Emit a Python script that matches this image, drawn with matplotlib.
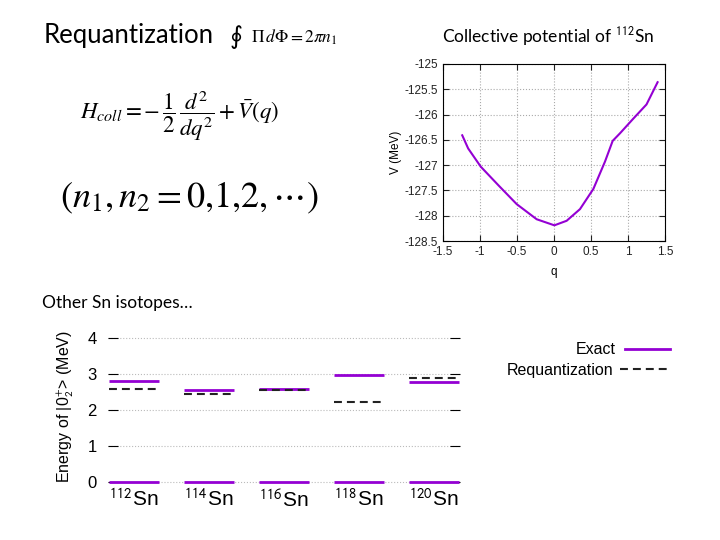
import numpy as np
import matplotlib
matplotlib.use('Agg')
import matplotlib.pyplot as plt
from matplotlib.lines import Line2D

plt.rcParams['mathtext.fontset'] = 'stix'

# collective potential of 112Sn
q = [-1.24, -1.16, -0.99, -0.75, -0.505, -0.234, 0.005, 0.171, 0.351, 0.532, 0.689,
     0.793, 0.892, 1.072, 1.25, 1.40]
V = [-126.41, -126.67, -127.03, -127.4, -127.77, -128.07, -128.19, -128.1, -127.87, -127.47,
     -126.93, -126.52, -126.37, -126.08, -125.8, -125.36]

# 0+_2 energies
isotopes = [r'$^{\mathsf{112}}$Sn', r'$^{\mathsf{114}}$Sn', r'$^{\mathsf{116}}$Sn',
            r'$^{\mathsf{118}}$Sn', r'$^{\mathsf{120}}$Sn']
e_exact = [2.82, 2.56, 2.59, 2.98, 2.78]
e_requant = [2.59, 2.44, 2.56, 2.22, 2.90]
e_ground = [0, 0, 0, 0, 0]

purple = '#9400d3'
slide_font = 'Lato'
plot_font = 'Liberation Sans'

fig = plt.figure(figsize=(7.2, 5.4), dpi=100)

# ---- slide text ----
fig.text(44/720, 1 - 36/540, 'Requantization', fontsize=18.5, family=slide_font, va='center')
fig.text(230/720, 1 - 37/540, '\u222e', fontsize=18,
         family=['DejaVu Sans', 'Noto Sans CJK JP', 'Noto Sans'], va='center')
fig.text(251/720, 1 - 37/540, r'$\Pi\, d\Phi = 2\pi n_1$', fontsize=12.5, va='center')
fig.text(80/720, 1 - 116/540, r'$H_{coll} = -\,\dfrac{1}{2}\,\dfrac{d^2}{dq^2} + \bar{V}(q)$',
         fontsize=16.5, va='center')
fig.text(60/720, 1 - 198/540, r'$(n_1, n_2 = 0{,}1{,}2, \cdots)$', fontsize=26, va='center')
fig.text(42/720, 1 - 303/540, 'Other Sn isotopes\u2026', fontsize=12.5, family=slide_font, va='center')
fig.text(548/720, 1 - 37/540, r'Collective potential of $^{\mathsf{112}}$Sn', fontsize=12.5,
         family=slide_font, ha='center', va='center')

# ---- potential plot ----
ax1 = fig.add_axes([443/720, 1 - 241/540, 222/720, 177/540])
ax1.plot(q, V, color=purple, lw=1.5)
ax1.set_xlim(-1.5, 1.5)
ax1.set_ylim(-128.5, -125)
ax1.set_xticks([-1.5, -1, -0.5, 0, 0.5, 1, 1.5])
ax1.set_xticklabels(['-1.5', '-1', '-0.5', '0', '0.5', '1', '1.5'])
ax1.set_yticks([-128.5, -128, -127.5, -127, -126.5, -126, -125.5, -125])
ax1.set_yticklabels(['-128.5', '-128', '-127.5', '-127', '-126.5', '-126', '-125.5', '-125'])
ax1.grid(True, linestyle=':', color='#aaaaaa', lw=0.8)
ax1.tick_params(direction='in', length=4, labelsize=8.5, top=True, right=True, colors='#222222')
for lab in ax1.get_xticklabels() + ax1.get_yticklabels():
    lab.set_family(plot_font)
ax1.set_xlabel('q', fontsize=8.5, family=plot_font, labelpad=6)
ax1.set_ylabel('V (MeV)', fontsize=8.5, family=plot_font, labelpad=2)

# ---- 0+_2 levels ----
ax2 = fig.add_axes([108/720, 1 - 485.6/540, 352/720, 158/540])
x = np.arange(len(isotopes))
hw = 0.33
ax2.hlines(e_ground, x - hw, x + hw, color=purple, lw=2)
ax2.hlines(e_exact, x - hw, x + hw, color=purple, lw=2)
ax2.hlines(e_requant, x - hw, x + hw, color='#222222', lw=1.5, linestyles=(0, (3.8, 2.4)))
ax2.set_xlim(-0.35, len(isotopes) - 1 + 0.35)
ax2.set_ylim(-0.1, 4.3)
ax2.set_yticks([0, 1, 2, 3, 4])
ax2.set_xticks(x)
ax2.set_xticklabels(isotopes)
for s in ax2.spines.values():
    s.set_visible(False)
ax2.yaxis.grid(True, linestyle=':', color='#bbbbbb', lw=0.8)
ax2.tick_params(axis='y', direction='in', length=7, width=0.8, right=True, labelsize=12, pad=8)
ax2.tick_params(axis='x', length=0, labelsize=15, pad=2)
for lab in ax2.get_xticklabels() + ax2.get_yticklabels():
    lab.set_family(plot_font)
ax2.set_ylabel(r'Energy of |0$_{\mathsf{2}}^{\mathsf{+}}$> (MeV)', fontsize=11.5,
               family=plot_font, labelpad=8)

# legend
fig.text(616/720, 1 - 350/540, 'Exact', fontsize=11.5, family=plot_font, ha='right', va='center')
fig.text(613/720, 1 - 370/540, 'Requantization', fontsize=11.5, family=plot_font, ha='right', va='center')
fig.add_artist(Line2D([625/720, 670/720], [1 - 349/540, 1 - 349/540], color=purple, lw=2))
fig.add_artist(Line2D([620/720, 670/720], [1 - 369/540, 1 - 369/540], color='#222222',
                      lw=1.5, linestyle=(0, (3.8, 2.4))))

fig.savefig('out.png', dpi=100)
